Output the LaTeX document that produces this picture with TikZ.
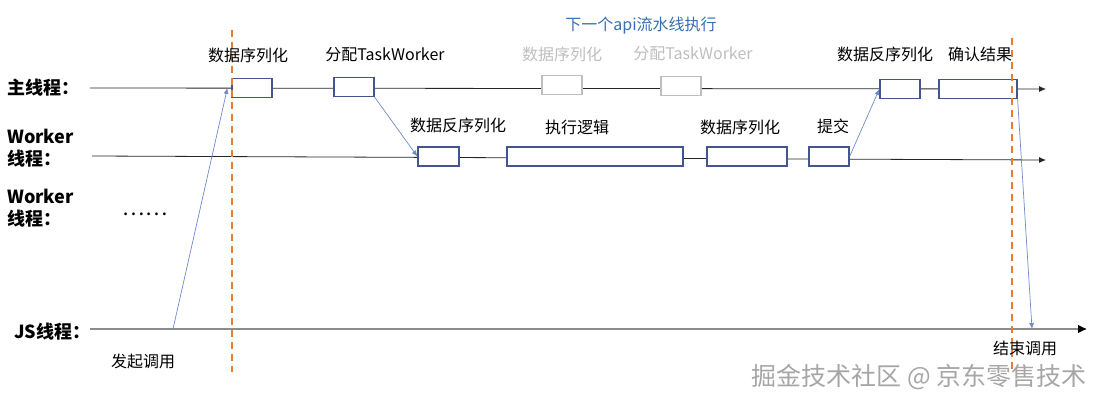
\documentclass[tikz,border=0pt]{standalone}
\usepackage{fontspec}
\setmainfont{Noto Sans CJK SC}
\usetikzlibrary{arrows.meta}
\definecolor{boxblue}{RGB}{68,84,140}
\definecolor{arrblue}{RGB}{110,138,205}
\definecolor{dashor}{RGB}{232,125,49}
\definecolor{ghost}{RGB}{190,190,190}
\definecolor{titleblue}{RGB}{55,110,180}
\tikzset{
  boxn/.style={draw=boxblue, line width=1.2pt, fill=white, minimum height=19pt, inner sep=0pt},
  ghostbox/.style={draw=ghost, line width=1.2pt, fill=white, minimum height=19pt, inner sep=0pt},
  lbl/.style={font=\fontsize{16}{18}\selectfont, inner sep=0pt},
  thr/.style={font=\fontsize{18}{22}\selectfont\bfseries, inner sep=0pt, anchor=west, align=left},
  tline/.style={line width=0.8pt, draw=black!85},
  flow/.style={draw=arrblue, line width=0.7pt, -{Latex[length=6pt,width=5pt]}},
  guide/.style={draw=dashor, line width=1.3pt, dash pattern=on 7pt off 5pt}
}
\begin{document}
\begin{tikzpicture}[x=1pt,y=-1pt]
\useasboundingbox (0,0) rectangle (1103,401);
% thread labels
\node[thr] (lmain) at (7,88) {主线程：};
\node[thr] (lw1) at (7,148) {Worker\\线程：};
\node[thr] (lw2) at (7,208) {Worker\\线程：};
\node[thr] (ljs) at (14,332) {JS线程：};
\node[font=\fontsize{21}{22}\selectfont, inner sep=0pt] (dots) at (145,214) {……};
% thread lines
\coordinate (ms) at (90,88);
\coordinate (me) at (1046,89);
\coordinate (ws) at (92,156);
\coordinate (we) at (1046,160);
\coordinate (js) at (90,329);
\coordinate (je) at (1086,329);
\draw[tline,-{Latex[length=7pt,width=6pt]}] (ms) -- (me);
\draw[tline,-{Latex[length=7pt,width=6pt]}] (ws) -- (we);
\draw[line width=1.3pt, draw=black!45] (js) -- (je);
\fill[black] (je) ++(-8,-4) -- (je) -- ++(-8,4) -- cycle;
% dashed guides
\coordinate (g1t) at (232,30);
\coordinate (g1b) at (232,372);
\coordinate (g2t) at (1012,38);
\coordinate (g2b) at (1012,372);
% main boxes
\node[boxn, minimum width=40pt] (m1) at (252,88) {};
\node[boxn, minimum width=40pt] (m2) at (354,87) {};
\node[ghostbox, minimum width=40pt] (g1) at (562,85) {};
\node[ghostbox, minimum width=40pt] (g2) at (681,86) {};
\node[boxn, minimum width=40pt] (m3) at (900,89) {};
\node[boxn, minimum width=78pt] (m4) at (978,89) {};
% worker boxes
\node[boxn, minimum width=41pt] (w1) at (438.5,156.5) {};
\node[boxn, minimum width=176pt] (w2) at (595,156.5) {};
\node[boxn, minimum width=80pt] (w3) at (747,156.5) {};
\node[boxn, minimum width=40pt] (w4) at (829,156.5) {};
\draw[guide] (g1t) -- (g1b);
\draw[guide] (g2t) -- (g2b);
% labels
\node[lbl] (t1) at (248,55) {数据序列化};
\node[lbl] (t2) at (385,55) {分配TaskWorker};
\node[lbl, text=ghost] (t3) at (562,54) {数据序列化};
\node[lbl, text=ghost] (t4) at (693,54) {分配TaskWorker};
\node[lbl, text=titleblue] (t0) at (641,26) {下一个api流水线执行};
\node[lbl] (t5) at (885,54) {数据反序列化};
\node[lbl] (t6) at (980,54) {确认结果};
\node[lbl] (t7) at (458,125) {数据反序列化};
\node[lbl] (t8) at (577,127) {执行逻辑};
\node[lbl] (t9) at (740,127) {数据序列化};
\node[lbl] (t10) at (833,126) {提交};
\node[lbl] (t11) at (143,361) {发起调用};
\node[lbl] (t12) at (1025,348) {结束调用};
% flow arrows
\coordinate (call) at (173,329);
\coordinate (ret) at (1032,329);
\draw[flow] (call) -- ([xshift=-4pt]m1.west);
\draw[flow] (m2.south east) -- (w1.west);
\draw[flow] (w4.east) -- (m3.west);
\draw[flow] (m4.south east) -- (ret);
% watermark
\node[font=\fontsize{25}{27}\selectfont, text=black!35, inner sep=0pt] (wm) at (919,377) {掘金技术社区 @ 京东零售技术};
\end{tikzpicture}
\end{document}
